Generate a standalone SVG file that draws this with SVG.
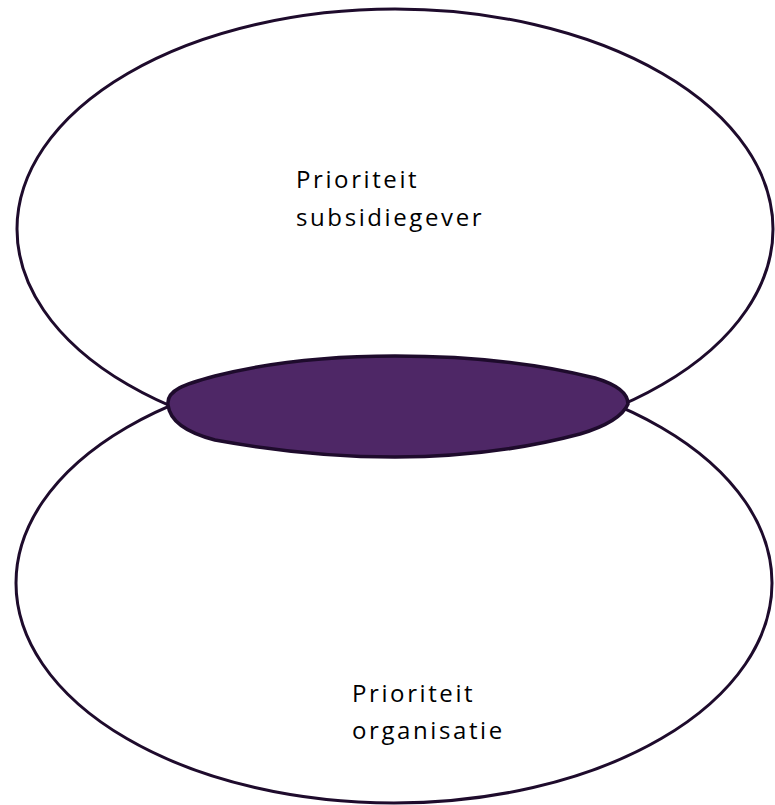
<svg xmlns="http://www.w3.org/2000/svg" width="775" height="805" viewBox="0 0 775 805">
<style>
.ring{fill:none;stroke:#1e0b2c;stroke-width:3}
.lens{fill:#4e2766;stroke:#1e0b2c;stroke-width:3.5}
.lbl{font-family:"Open Sans","Liberation Sans",Arial,sans-serif;font-size:24px;fill:#000;letter-spacing:2.6px}
</style>
<rect width="775" height="805" fill="#fff"/>
<g id="top-circle">
<ellipse class="ring" cx="395" cy="229" rx="378" ry="220"/>
<text class="lbl" x="296" y="188">Prioriteit</text>
<text class="lbl" x="296" y="226">subsidiegever</text>
</g>
<g id="bottom-circle">
<ellipse class="ring" cx="394" cy="583" rx="378" ry="220"/>
<text class="lbl" x="352" y="702">Prioriteit</text>
<text class="lbl" x="352" y="739">organisatie</text>
</g>
<g id="overlap">
<path class="lens" d="M168,405 C166,390 185,384 215,376 C270,362 330,356 395,356 C470,356 540,364 595,378 C615,384 628,392 628,404 C622,418 600,428 580,434 C520,450 460,457 395,457 C330,457 270,450 215,440 C188,433 170,422 168,405 Z"/>
</g>
<g id="connectors"></g>
</svg>
